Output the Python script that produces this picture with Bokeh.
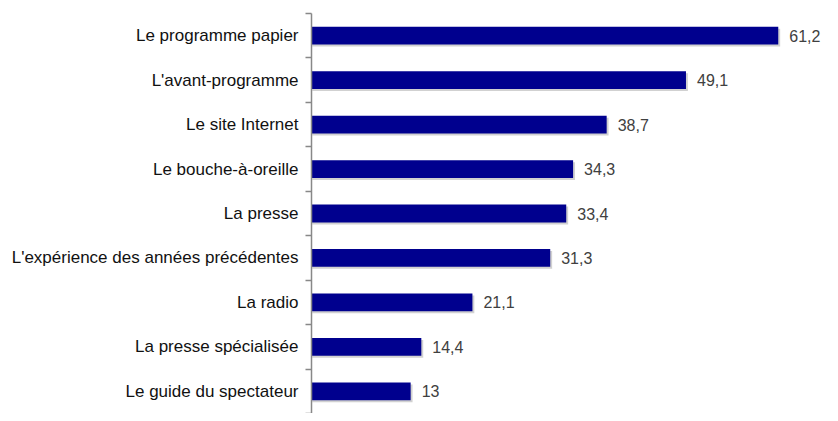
import numpy as np
from bokeh.plotting import figure
from bokeh.models import ColumnDataSource, FixedTicker, Range1d
from bokeh.core.properties import value
from bokeh.transform import dodge
from bokeh.embed import file_html
from bokeh.resources import INLINE

categories = ["Le programme papier", "L'avant-programme", "Le site Internet",
              "Le bouche-à-oreille", "La presse", "L'expérience des années précédentes",
              "La radio", "La presse spécialisée", "Le guide du spectateur"]
values = [61.2, 49.1, 38.7, 34.3, 33.4, 31.3, 21.1, 14.4, 13]
value_labels = ["61,2", "49,1", "38,7", "34,3", "33,4", "31,3", "21,1", "14,4", "13"]

n = len(categories)
ypos = [n - 1 - i + 0.5 for i in range(n)]

src = ColumnDataSource(dict(y=ypos, v=values, lab=value_labels, cat=categories))

p = figure(width=822, height=413, output_backend="svg", toolbar_location=None,
           x_range=Range1d(0, 67.0), y_range=Range1d(0, n),
           min_border_left=311, min_border_top=13, min_border_bottom=0, min_border_right=0)
p.outline_line_color = None
p.xgrid.visible = False
p.ygrid.visible = False
p.xaxis.visible = False

# soft shadow
p.hbar(y=dodge("y", -0.045, range=p.y_range), right=dodge("v", 0.25, range=p.x_range),
       left=0.1, height=0.4, source=src, fill_color="#999999", fill_alpha=0.45, line_color=None)
p.hbar(y="y", right="v", left=0, height=0.4, source=src,
       fill_color="#00008E", line_color=None)
p.text(x="v", y="y", text="lab", source=src, x_offset=11,
       text_baseline="middle", text_align="left",
       text_font=value("Liberation Sans"), text_font_size="16px", text_color="#404040")

ax = p.yaxis[0]
ax.ticker = FixedTicker(ticks=ypos, minor_ticks=list(range(n + 1)))
ax.major_label_overrides = {y: c for y, c in zip(ypos, categories)}
ax.major_tick_line_color = None
ax.major_tick_out = 6
ax.minor_tick_out = 6
ax.minor_tick_in = 0
ax.minor_tick_line_color = "#888888"
ax.minor_tick_line_width = 1.5
ax.axis_line_color = "#888888"
ax.axis_line_width = 1.5
ax.major_label_standoff = 7
ax.major_label_text_font = "Liberation Sans"
ax.major_label_text_font_size = "17px"
ax.major_label_text_color = "#111111"

open("out.html", "w").write(file_html(p, INLINE))
